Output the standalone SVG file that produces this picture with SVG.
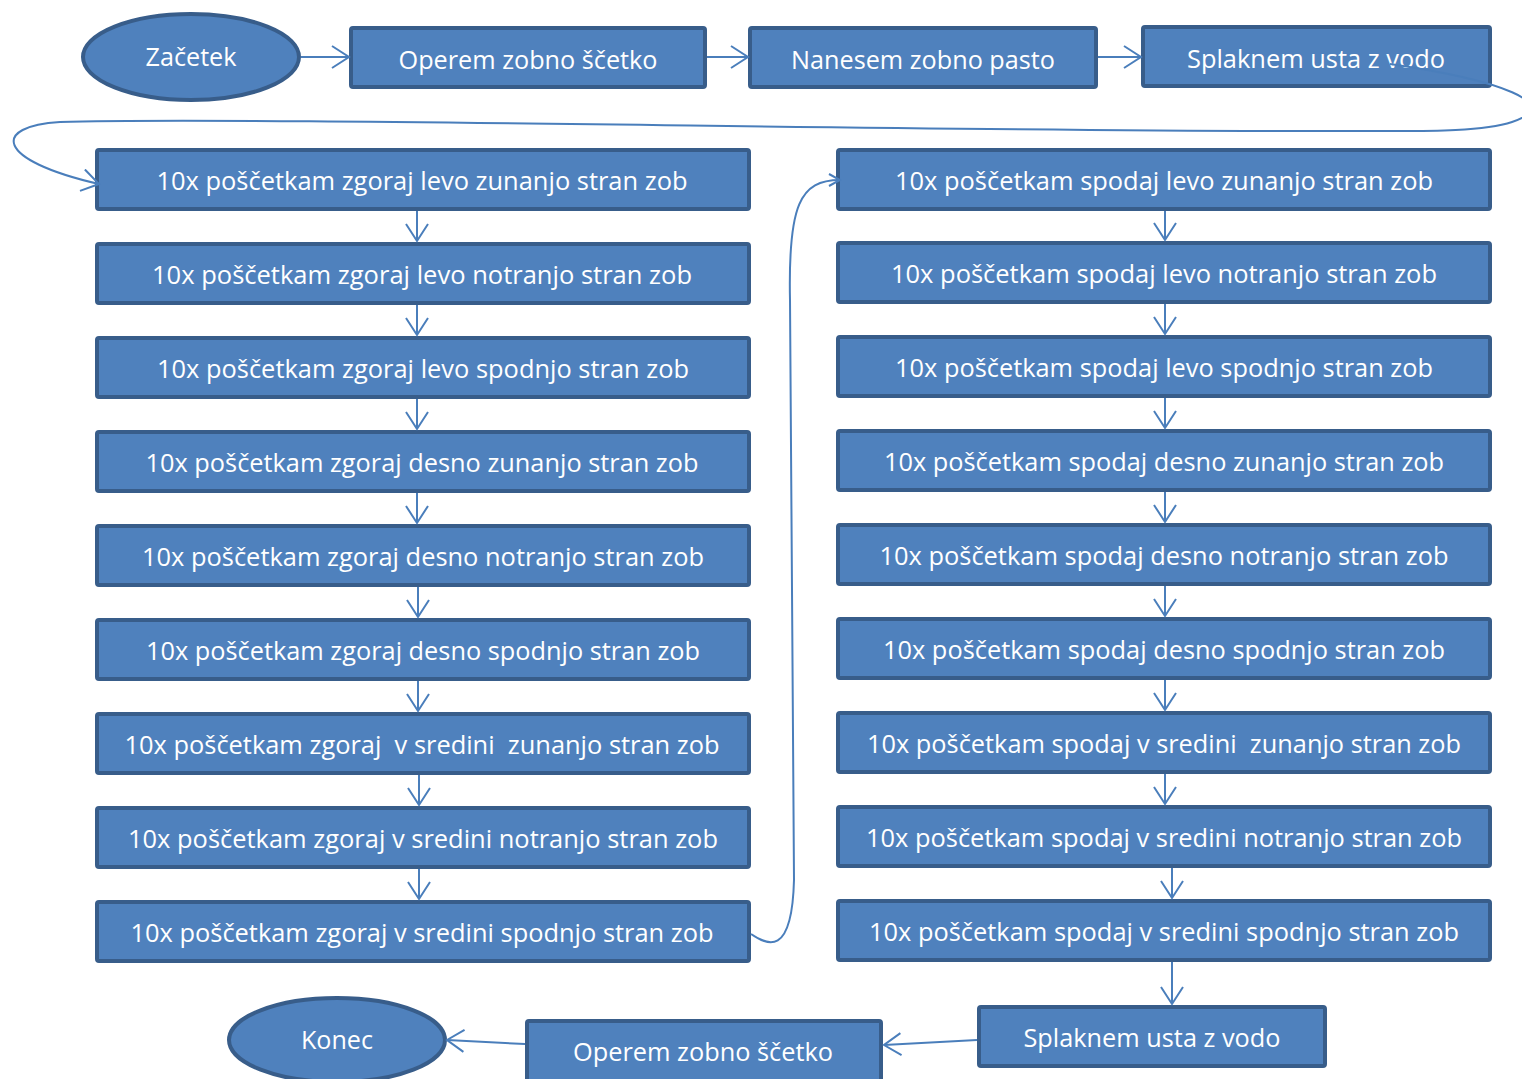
<svg xmlns="http://www.w3.org/2000/svg" width="1522" height="1079" viewBox="0 0 1522 1079">
<defs>
<marker id="arr" markerWidth="14" markerHeight="14" refX="12" refY="7" orient="auto" markerUnits="userSpaceOnUse">
<path d="M1,1 L12,7 L1,13" fill="none" stroke="#4a7ebb" stroke-width="2"/>
</marker>
<marker id="arrL" markerWidth="20" markerHeight="24" refX="18" refY="12" orient="auto" markerUnits="userSpaceOnUse">
<path d="M1,1 L18,12 L1,23" fill="none" stroke="#4a7ebb" stroke-width="2"/>
</marker>
<style>
.n{fill:#4f81bd;stroke:#385d8a;stroke-width:4}
.t{fill:#ffffff;font-family:"Open Sans","Noto Sans","DejaVu Sans",sans-serif;font-size:26px;text-anchor:middle;white-space:pre}
.c{fill:none;stroke:#4a7ebb;stroke-width:2}
</style>
</defs>
<rect width="1522" height="1079" fill="#ffffff"/>
<g id="start"><ellipse class="n" cx="191" cy="57" rx="108" ry="43"/><text class="t" x="191" y="66" textLength="91" lengthAdjust="spacingAndGlyphs">Začetek</text></g>
<g id="top1"><rect class="n" x="351" y="28" width="354" height="59" rx="2"/><text class="t" x="528" y="69" textLength="259" lengthAdjust="spacingAndGlyphs">Operem zobno ščetko</text></g>
<g id="top2"><rect class="n" x="750" y="28" width="346" height="59" rx="2"/><text class="t" x="923" y="69" textLength="264" lengthAdjust="spacingAndGlyphs">Nanesem zobno pasto</text></g>
<g id="top3"><rect class="n" x="1143" y="27" width="347" height="59" rx="2"/><text class="t" x="1316" y="68" textLength="258" lengthAdjust="spacingAndGlyphs">Splaknem usta z vodo</text></g>

<g id="L1"><rect class="n" x="97" y="150" width="652" height="59" rx="2"/><text class="t" x="422" y="190" textLength="531" lengthAdjust="spacingAndGlyphs">10x poščetkam zgoraj levo zunanjo stran zob</text></g>
<g id="L2"><rect class="n" x="97" y="244" width="652" height="59" rx="2"/><text class="t" x="422" y="284" textLength="540" lengthAdjust="spacingAndGlyphs">10x poščetkam zgoraj levo notranjo stran zob</text></g>
<g id="L3"><rect class="n" x="97" y="338" width="652" height="59" rx="2"/><text class="t" x="423" y="378" textLength="532" lengthAdjust="spacingAndGlyphs">10x poščetkam zgoraj levo spodnjo stran zob</text></g>
<g id="L4"><rect class="n" x="97" y="432" width="652" height="59" rx="2"/><text class="t" x="422" y="472" textLength="553" lengthAdjust="spacingAndGlyphs">10x poščetkam zgoraj desno zunanjo stran zob</text></g>
<g id="L5"><rect class="n" x="97" y="526" width="652" height="59" rx="2"/><text class="t" x="423" y="566" textLength="562" lengthAdjust="spacingAndGlyphs">10x poščetkam zgoraj desno notranjo stran zob</text></g>
<g id="L6"><rect class="n" x="97" y="620" width="652" height="59" rx="2"/><text class="t" x="423" y="660" textLength="554" lengthAdjust="spacingAndGlyphs">10x poščetkam zgoraj desno spodnjo stran zob</text></g>
<g id="L7"><rect class="n" x="97" y="714" width="652" height="59" rx="2"/><text class="t" x="422" y="754" textLength="595" lengthAdjust="spacingAndGlyphs">10x poščetkam zgoraj  v sredini  zunanjo stran zob</text></g>
<g id="L8"><rect class="n" x="97" y="808" width="652" height="59" rx="2"/><text class="t" x="423" y="848" textLength="590" lengthAdjust="spacingAndGlyphs">10x poščetkam zgoraj v sredini notranjo stran zob</text></g>
<g id="L9"><rect class="n" x="97" y="902" width="652" height="59" rx="2"/><text class="t" x="422" y="942" textLength="583" lengthAdjust="spacingAndGlyphs">10x poščetkam zgoraj v sredini spodnjo stran zob</text></g>

<g id="R1"><rect class="n" x="838" y="150" width="652" height="59" rx="2"/><text class="t" x="1164" y="190" textLength="538" lengthAdjust="spacingAndGlyphs">10x poščetkam spodaj levo zunanjo stran zob</text></g>
<g id="R2"><rect class="n" x="838" y="243" width="652" height="59" rx="2"/><text class="t" x="1164" y="283" textLength="546" lengthAdjust="spacingAndGlyphs">10x poščetkam spodaj levo notranjo stran zob</text></g>
<g id="R3"><rect class="n" x="838" y="337" width="652" height="59" rx="2"/><text class="t" x="1164" y="377" textLength="538" lengthAdjust="spacingAndGlyphs">10x poščetkam spodaj levo spodnjo stran zob</text></g>
<g id="R4"><rect class="n" x="838" y="431" width="652" height="59" rx="2"/><text class="t" x="1164" y="471" textLength="560" lengthAdjust="spacingAndGlyphs">10x poščetkam spodaj desno zunanjo stran zob</text></g>
<g id="R5"><rect class="n" x="838" y="525" width="652" height="59" rx="2"/><text class="t" x="1164" y="565" textLength="569" lengthAdjust="spacingAndGlyphs">10x poščetkam spodaj desno notranjo stran zob</text></g>
<g id="R6"><rect class="n" x="838" y="619" width="652" height="59" rx="2"/><text class="t" x="1164" y="659" textLength="562" lengthAdjust="spacingAndGlyphs">10x poščetkam spodaj desno spodnjo stran zob</text></g>
<g id="R7"><rect class="n" x="838" y="713" width="652" height="59" rx="2"/><text class="t" x="1164" y="753" textLength="594" lengthAdjust="spacingAndGlyphs">10x poščetkam spodaj v sredini  zunanjo stran zob</text></g>
<g id="R8"><rect class="n" x="838" y="807" width="652" height="59" rx="2"/><text class="t" x="1164" y="847" textLength="596" lengthAdjust="spacingAndGlyphs">10x poščetkam spodaj v sredini notranjo stran zob</text></g>
<g id="R9"><rect class="n" x="838" y="901" width="652" height="59" rx="2"/><text class="t" x="1164" y="941" textLength="590" lengthAdjust="spacingAndGlyphs">10x poščetkam spodaj v sredini spodnjo stran zob</text></g>

<g id="bottom1"><rect class="n" x="979" y="1007" width="346" height="59" rx="2"/><text class="t" x="1152" y="1047" textLength="257" lengthAdjust="spacingAndGlyphs">Splaknem usta z vodo</text></g>
<g id="bottom2"><rect class="n" x="527" y="1021" width="354" height="62" rx="2"/><text class="t" x="703" y="1061" textLength="260" lengthAdjust="spacingAndGlyphs">Operem zobno ščetko</text></g>
<g id="end"><ellipse class="n" cx="337" cy="1040" rx="108" ry="42"/><text class="t" x="337" y="1049" textLength="72" lengthAdjust="spacingAndGlyphs">Konec</text></g>

<g id="connectors">
<path class="c" d="M301,57 L349,57" marker-end="url(#arrL)"/>
<path class="c" d="M707,57 L748,57" marker-end="url(#arrL)"/>
<path class="c" d="M1098,57 L1141,57" marker-end="url(#arrL)"/>
<path class="c" d="M1390,64 C1500,80 1565,104 1512,122 C1482,132 1420,131 1380,131 C1000,133 250,116 60,122 C-8,126 -6,160 99,184" marker-end="url(#arrL)"/>
<path class="c" d="M417,211 L417,241" marker-end="url(#arrL)"/>
<path class="c" d="M417,305 L417,335" marker-end="url(#arrL)"/>
<path class="c" d="M417,399 L417,429" marker-end="url(#arrL)"/>
<path class="c" d="M417,493 L417,523" marker-end="url(#arrL)"/>
<path class="c" d="M418,587 L418,617" marker-end="url(#arrL)"/>
<path class="c" d="M418,681 L418,711" marker-end="url(#arrL)"/>
<path class="c" d="M419,775 L419,805" marker-end="url(#arrL)"/>
<path class="c" d="M419,869 L419,899" marker-end="url(#arrL)"/>
<path class="c" d="M751,934 C767,945 792,958 794,880 L790,300 C788,205 800,180 840,180" marker-end="url(#arr)"/>
<path class="c" d="M1165,211 L1165,240" marker-end="url(#arrL)"/>
<path class="c" d="M1165,304 L1165,334" marker-end="url(#arrL)"/>
<path class="c" d="M1165,398 L1165,428" marker-end="url(#arrL)"/>
<path class="c" d="M1165,492 L1165,522" marker-end="url(#arrL)"/>
<path class="c" d="M1165,586 L1165,616" marker-end="url(#arrL)"/>
<path class="c" d="M1165,680 L1165,710" marker-end="url(#arrL)"/>
<path class="c" d="M1165,774 L1165,804" marker-end="url(#arrL)"/>
<path class="c" d="M1172,868 L1172,898" marker-end="url(#arrL)"/>
<path class="c" d="M1172,962 L1172,1004" marker-end="url(#arrL)"/>
<path class="c" d="M977,1040 L884,1045" marker-end="url(#arrL)"/>
<path class="c" d="M525,1044 L447,1040" marker-end="url(#arrL)"/>
</g>
</svg>
